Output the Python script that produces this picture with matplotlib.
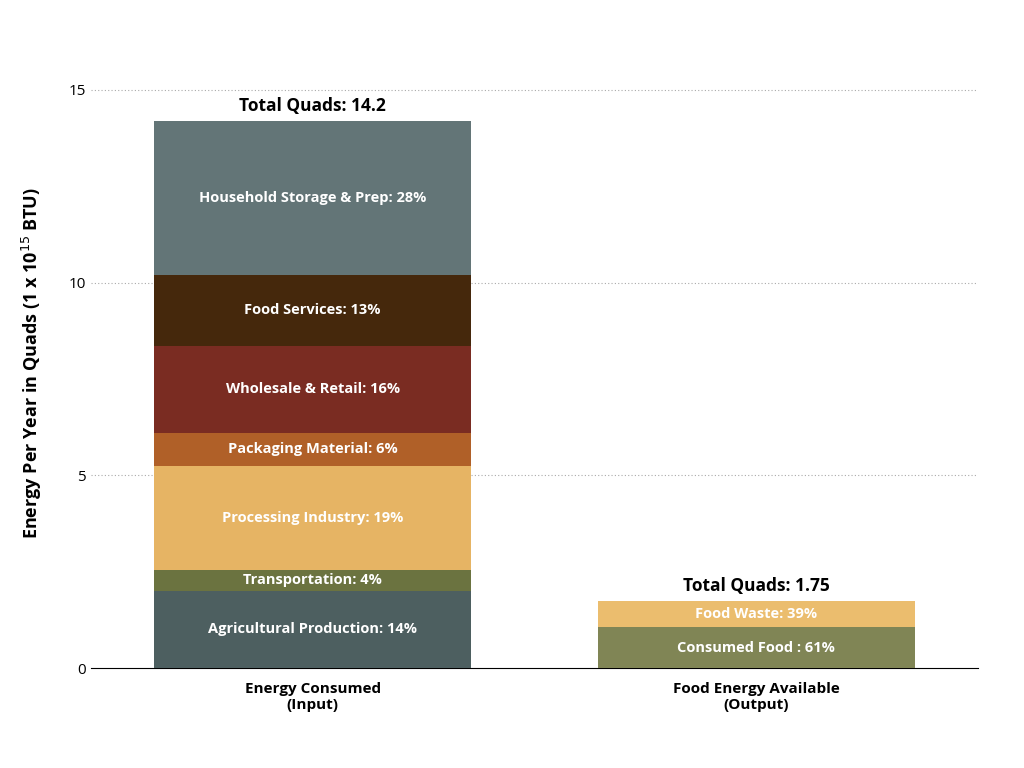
import matplotlib
matplotlib.use("Agg")
import matplotlib.pyplot as plt

plt.rcParams['font.family'] = ['Open Sans', 'DejaVu Sans']

# stacked segments (quads), bottom to top
in_labels = ["Agricultural Production: 14%", "Transportation: 4%", "Processing Industry: 19%",
             "Packaging Material: 6%", "Wholesale & Retail: 16%", "Food Services: 13%",
             "Household Storage & Prep: 28%"]
in_values = [2.0, 0.55, 2.69, 0.86, 2.26, 1.84, 4.0]
in_colors = ["#4d5f60", "#6b7340", "#e6b464", "#b06028", "#7a2c22", "#45280c", "#637577"]

out_labels = ["Consumed Food : 61%", "Food Waste: 39%"]
out_values = [1.06, 0.69]
out_colors = ["#808555", "#ebbd6e"]

categories = ["Energy Consumed\n(Input)", "Food Energy Available\n(Output)"]
totals = ["Total Quads: 14.2", "Total Quads: 1.75"]

fig = plt.figure(figsize=(10.24, 7.68), dpi=100)
ax = fig.add_axes([91/1024, 1-668/768, 887/1024, (668-59)/768])
w = 0.715

for x, vals, labs, cols in [(0, in_values, in_labels, in_colors),
                            (1, out_values, out_labels, out_colors)]:
    bottom = 0
    for v, l, c in zip(vals, labs, cols):
        ax.bar(x, v, w, bottom=bottom, color=c, zorder=3)
        ax.text(x, bottom + v/2, l, ha="center", va="center", color="white",
                fontsize=10.5, fontweight="bold", zorder=4)
        bottom += v
    ax.text(x, bottom + 0.15, totals[x], ha="center", va="bottom",
            fontsize=12.5, fontweight="bold")

ax.set_xlim(-0.5, 1.5)
ax.set_ylim(0, 15.8)
ax.set_yticks([0, 5, 10, 15])
ax.set_xticks([0, 1])
ax.set_xticklabels(categories, fontsize=13, fontweight="bold")
ax.tick_params(length=0, labelsize=11)
ax.tick_params(axis="x", pad=10)
for y in [5, 10, 15]:
    ax.axhline(y, color="#aaaaaa", linestyle=(0, (1, 2)), linewidth=0.8, zorder=1)
for s in ["top", "right", "left"]:
    ax.spines[s].set_visible(False)
ax.spines["bottom"].set_color("black")
ax.set_ylabel("Energy Per Year in Quads (1 x 10$^{15}$ BTU)", fontsize=13,
              fontweight="bold", labelpad=18)

fig.savefig("out.png", dpi=100)
